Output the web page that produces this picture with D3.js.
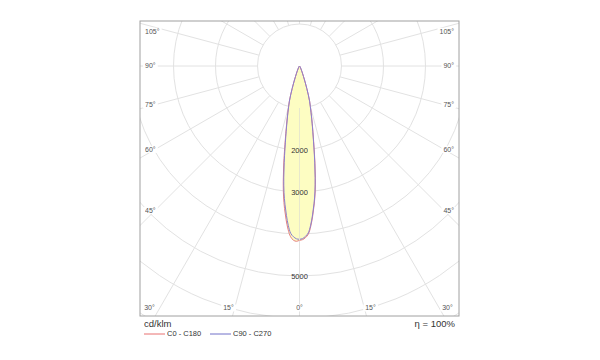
<!DOCTYPE html>
<html><head><meta charset="utf-8">
<script src="https://cdn.jsdelivr.net/npm/d3@7"></script>
<style>body{margin:0;background:#fff;}svg{display:block;font-family:"Liberation Sans",Arial,sans-serif;}text{opacity:0.995;}</style>
</head><body><div id="chart"></div>
<script>
// gamma angles (deg, 0 = straight down) and luminous intensity (cd/klm)
const gamma = [0,1,2,3,4,5,6,7,8,9,10,11,12,13,14,15,16,17,18,19,20,22,25,30,40,50,90,180];
const c0   = [4150,4135,4090,4010,3830,3590,3330,3050,2710,2350,2010,1725,1500,1305,1145,1000,880,725,565,435,335,205,110,50,15,0,0,0];
const c180 = [4150,4175,4150,4070,3900,3670,3410,3120,2780,2410,2060,1760,1520,1320,1155,1010,885,730,570,440,335,205,110,50,15,0,0,0];
const c90  = [4125,4110,4060,3980,3800,3560,3300,3020,2680,2320,1980,1700,1480,1290,1130,990,870,720,560,430,330,200,110,50,15,0,0,0];
const c270 = [4125,4115,4070,3990,3810,3570,3310,3030,2690,2330,1990,1710,1485,1295,1135,995,870,720,560,430,330,200,110,50,15,0,0,0];
const rings = [1000,2000,3000,4000,5000,6000,7000,8000];
const ringLabels = [2000,3000,5000];
const spokeAngles = [0,15,30,45,60,75,90,105,120,135,150,165,180];
const sideLabels = [45,60,75,90,105];
const bottomLabels = [30,15,0,15,30];
const unitLabel = "cd/klm";
const effLabel = "η = 100%";
const seriesNames = ["C0 - C180","C90 - C270"];

const W=600,H=360;
const frame={x:140,y:21,w:319,h:295};
const cx=299.5, cy=66;
const r=d3.scaleLinear().domain([0,1000]).range([0,42]);
const rad=d=>d*Math.PI/180;

const svg=d3.select("#chart").append("svg").attr("width",W).attr("height",H);
svg.append("defs").append("clipPath").attr("id","clip").append("rect")
  .attr("x",frame.x).attr("y",frame.y).attr("width",frame.w).attr("height",frame.h);

const g=svg.append("g").attr("clip-path","url(#clip)");
const gridCol="#e2e2e2";
g.selectAll("circle.ring").data(rings).join("circle")
  .attr("cx",cx).attr("cy",cy).attr("r",d=>r(d))
  .attr("fill","none").attr("stroke",gridCol).attr("stroke-width",1);
const spokes=[];
spokeAngles.forEach(a=>{spokes.push(a); if(a>0&&a<180) spokes.push(-a);});
g.selectAll("line.spoke").data(spokes).join("line")
  .attr("x1",d=>cx+r(1000)*Math.sin(rad(d))).attr("y1",d=>cy+r(1000)*Math.cos(rad(d)))
  .attr("x2",d=>cx+600*Math.sin(rad(d))).attr("y2",d=>cy+600*Math.cos(rad(d)))
  .attr("stroke",gridCol).attr("stroke-width",1);

function pts(right,left){
  const p=[];
  for(let i=gamma.length-1;i>=0;i--) p.push([Math.PI+rad(gamma[i]), r(left[i])]);
  for(let i=1;i<gamma.length;i++) p.push([Math.PI-rad(gamma[i]), r(right[i])]);
  return p;
}
const line=d3.lineRadial().angle(d=>d[0]).radius(d=>d[1]).curve(d3.curveCatmullRomClosed.alpha(0.5));
const pg=g.append("g").attr("transform",`translate(${cx},${cy})`);
const redPts=pts(c0,c180), bluePts=pts(c90,c270);
pg.append("path").attr("d",line(redPts)).attr("fill","#fdfdc2");
pg.append("path").attr("d",line(bluePts)).attr("fill","#fdfdc2");
g.append("line").attr("x1",cx).attr("x2",cx).attr("y1",cy+r(1000)).attr("y2",cy+r(4150))
  .attr("stroke","#e8e8cc").attr("stroke-width",1);
pg.append("path").attr("d",line(redPts)).attr("fill","none").attr("stroke","#e58080").attr("stroke-width",1);
pg.append("path").attr("d",line(bluePts)).attr("fill","none").attr("stroke","#8a80d0").attr("stroke-width",1);

svg.selectAll("text.rl").data(ringLabels).join("text")
  .attr("x",cx).attr("y",d=>cy+r(d)).attr("dy","0.35em").attr("text-anchor","middle")
  .attr("font-size",7.5).attr("fill","#333").text(d=>d);

function label(x,y,anchor,txt){
  const t=svg.append("text").attr("x",x).attr("y",y).attr("dy","0.35em").attr("text-anchor",anchor)
    .attr("font-size",7).attr("fill","#555").text(txt);
  const b=t.node().getBBox();
  svg.insert("rect","text").attr("x",b.x-2).attr("y",b.y).attr("width",b.width+4).attr("height",b.height).attr("fill","#fff");
}
const lblDx=144.5;
sideLabels.forEach(a=>{
  const ypos = a===90?cy:(cy+lblDx*Math.cos(rad(a))/Math.sin(rad(a))) + (a>90?4:0);
  label(frame.x+5,ypos,"start",a+"°");
  label(frame.x+frame.w-5,ypos,"end",a+"°");
});
const bx=[-150,-71,0,71,148];
bottomLabels.forEach((a,i)=>label(cx+bx[i],308,"middle",a+"°"));

svg.append("rect").attr("x",frame.x).attr("y",frame.y).attr("width",frame.w).attr("height",frame.h)
  .attr("fill","none").attr("stroke","#a0a0a0").attr("stroke-width",1);

svg.append("text").attr("x",144).attr("y",327).attr("font-size",9.5).attr("fill","#333").text(unitLabel);
svg.append("text").attr("x",455).attr("y",327).attr("text-anchor","end").attr("font-size",9.5).attr("fill","#333").text(effLabel);
const legCols=["#e87070","#7070c8"];
const legX=[144,210];
seriesNames.forEach((s,i)=>{
  svg.append("line").attr("x1",legX[i]).attr("x2",legX[i]+21).attr("y1",334).attr("y2",334)
    .attr("stroke",legCols[i]).attr("stroke-width",1);
  svg.append("text").attr("x",legX[i]+23).attr("y",333.5).attr("dy","0.35em").attr("font-size",7.5).attr("fill","#333").text(s);
});
</script></body></html>
